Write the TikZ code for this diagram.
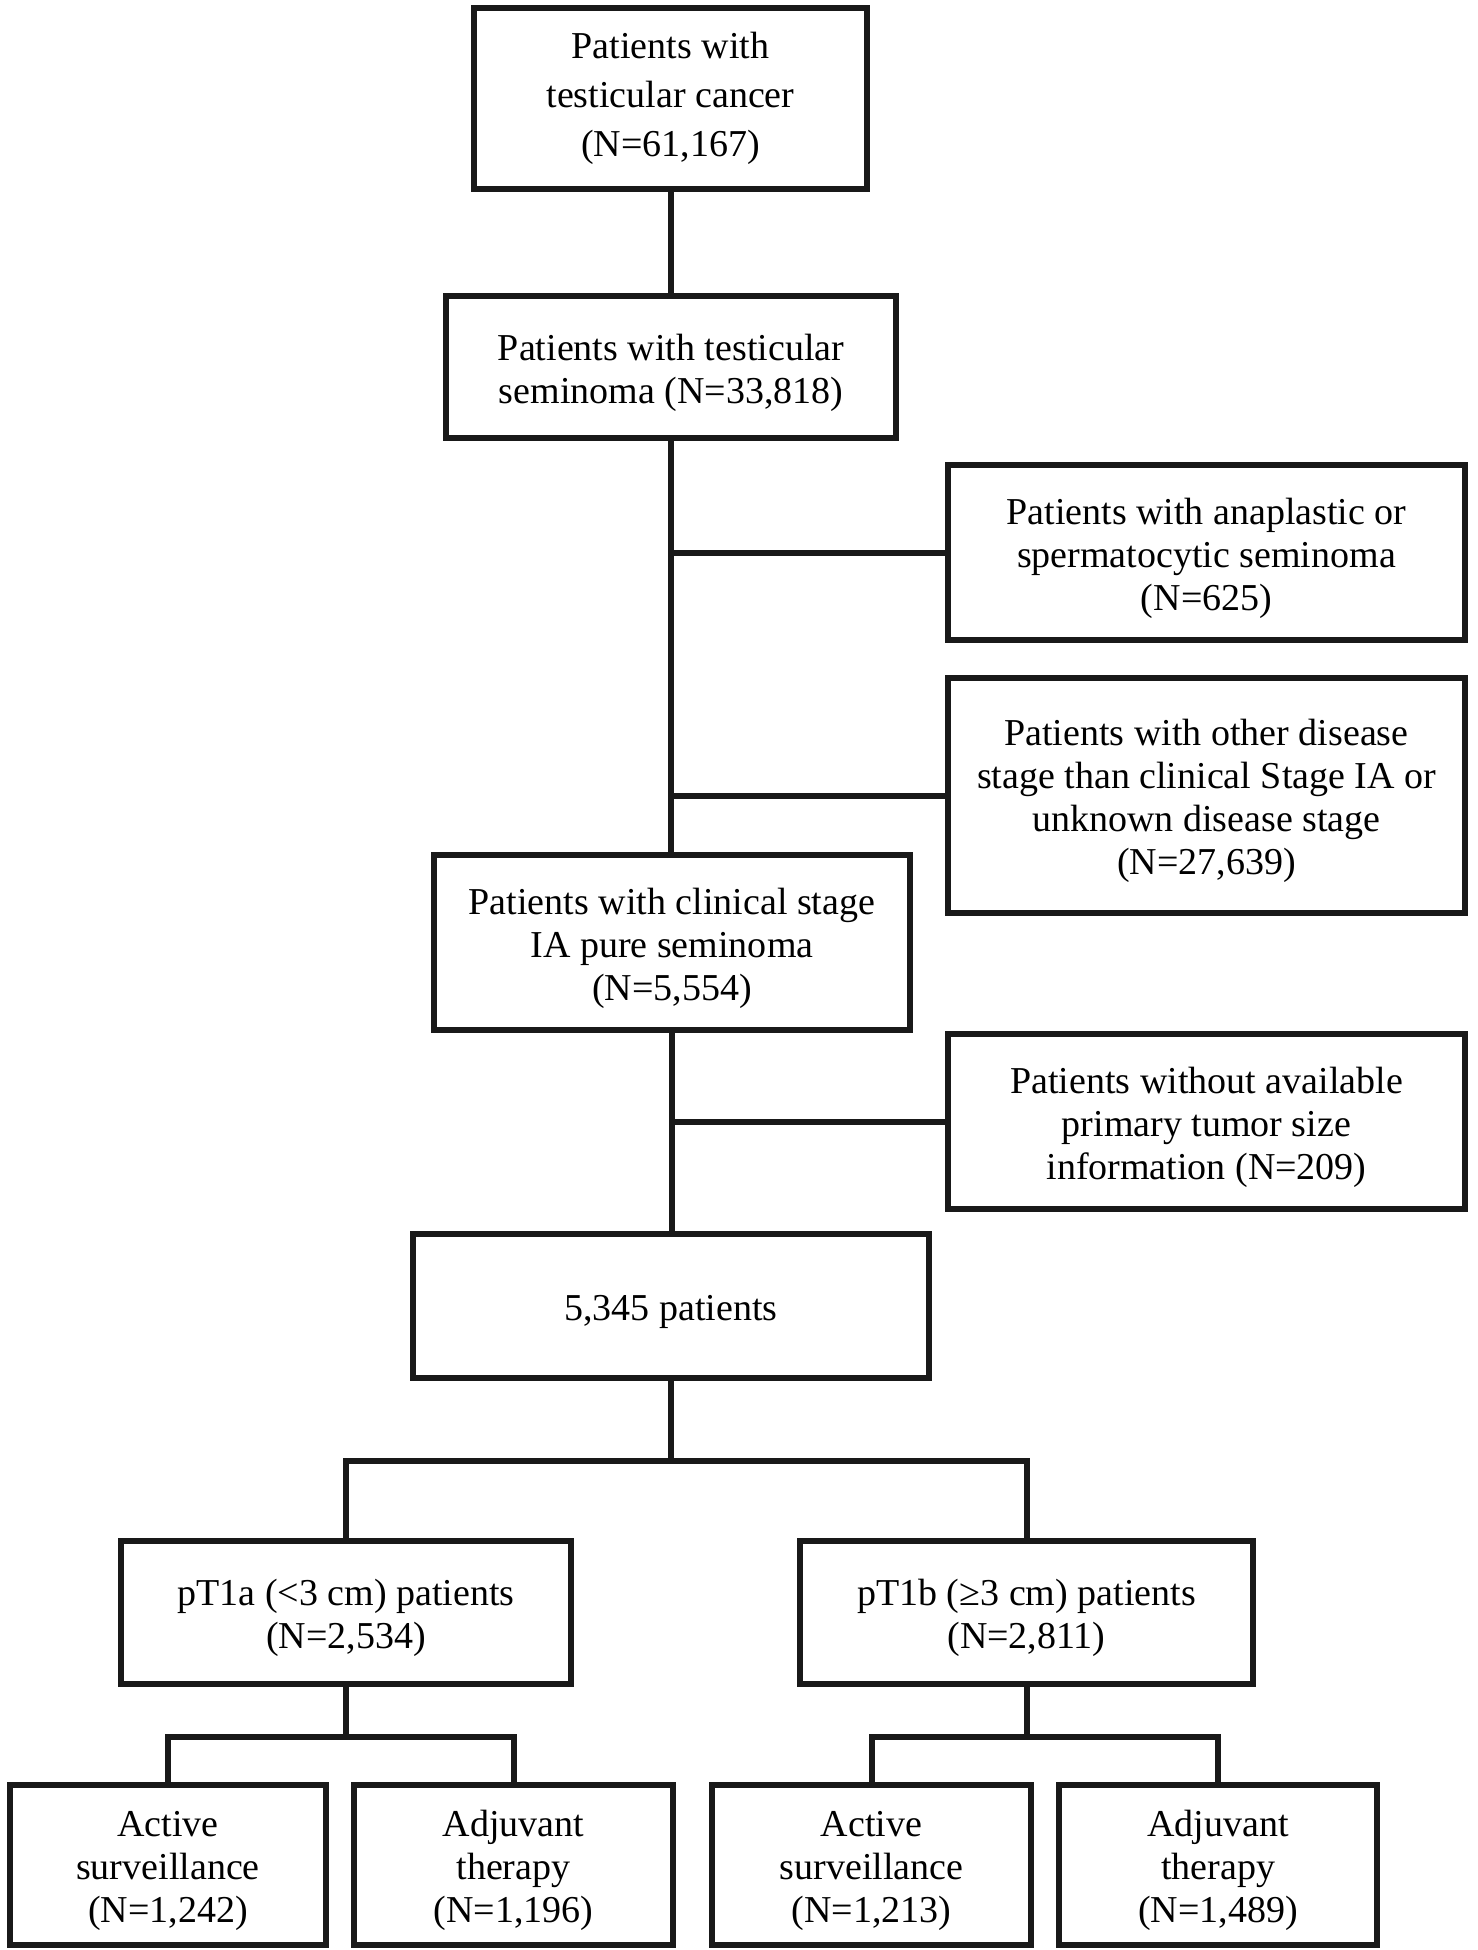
\documentclass[tikz,border=0pt]{standalone}
\usepackage{fontspec}
\setmainfont{Liberation Serif}
\newcommand\bxt[1]{\raisebox{-6pt}[\height][\depth]{\begin{tabular}{@{}c@{}}#1\end{tabular}}}
\begin{document}
\begin{tikzpicture}[x=1pt,y=-1pt,
  box/.style={draw=black!90, line width=6pt, fill=white, inner sep=0pt, align=center,
    font=\fontsize{38}{43}\selectfont, text=black},
  link/.style={draw=black!90, line width=6pt}]
\useasboundingbox (0,0) rectangle (1477,1950);
\fill[white] (0,0) rectangle (1477,1950);
\node[box, minimum width=393, minimum height=181, font=\fontsize{38}{49}\selectfont] (n1) at (670.5,98.5) {Patients with\\testicular cancer\\(N=61,167)};
\node[box, minimum width=450, minimum height=142] (n2) at (671,367) {\bxt{Patients with testicular\\seminoma (N=33,818)}};
\node[box, minimum width=517, minimum height=175] (n3) at (1206.5,552.5) {\bxt{Patients with anaplastic or\\spermatocytic seminoma\\(N=625)}};
\node[box, minimum width=517, minimum height=235] (n4) at (1206.5,795.5) {\bxt{Patients with other disease\\stage than clinical Stage IA or\\unknown disease stage\\(N=27,639)}};
\node[box, minimum width=476, minimum height=175] (n5) at (672,942.5) {\bxt{Patients with clinical stage\\IA pure seminoma\\(N=5,554)}};
\node[box, minimum width=517, minimum height=175] (n6) at (1206.5,1121.5) {\bxt{Patients without available\\primary tumor size\\information (N=209)}};
\node[box, minimum width=516, minimum height=144] (n7) at (671,1306) {\bxt{5,345 patients}};
\node[box, minimum width=450, minimum height=143] (n8) at (346,1612.5) {\bxt{pT1a (<3 cm) patients\\(N=2,534)}};
\node[box, minimum width=453, minimum height=143] (n9) at (1026.5,1612.5) {\bxt{pT1b (≥3 cm) patients\\(N=2,811)}};
\node[box, minimum width=316, minimum height=160] (b1) at (168,1865) {\bxt{Active\\surveillance\\(N=1,242)}};
\node[box, minimum width=319, minimum height=160] (b2) at (513.5,1865) {\bxt{Adjuvant\\therapy\\(N=1,196)}};
\node[box, minimum width=319, minimum height=160] (b3) at (871.5,1865) {\bxt{Active\\surveillance\\(N=1,213)}};
\node[box, minimum width=318, minimum height=160] (b4) at (1218,1865) {\bxt{Adjuvant\\therapy\\(N=1,489)}};
\coordinate (s1) at (671,1461);
\coordinate (s2) at (346,1737);
\coordinate (s3) at (1026.5,1737);
\draw[link] (n1.south) -- (n2.south |- n1.south) -- (n2.north);
\draw[link] (n2.south) -- (n2.south |- n5.north);
\draw[link] (n5.south) -- (n5.south |- n7.north);
\draw[link] (n3.west) -- (n3.west -| n2.south);
\draw[link] (n4.west) -- (n4.west -| n2.south);
\draw[link] (n6.west) -- (n6.west -| n2.south);
\draw[link] (n7.south) -- (s1);
\draw[link] (n8.north) |- (s1) -| (n9.north);
\draw[link] (n8.south) -- (s2);
\draw[link] (b1.north) |- (s2) -| (b2.north);
\draw[link] (n9.south) -- (s3);
\draw[link] (b3.north) |- (s3) -| (b4.north);
\end{tikzpicture}
\end{document}
